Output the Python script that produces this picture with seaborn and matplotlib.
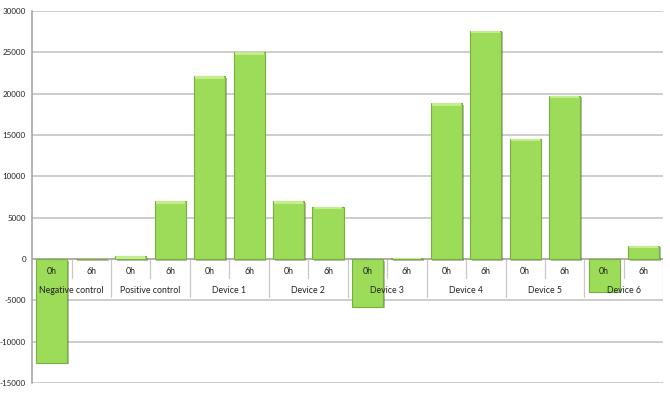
import pandas as pd
import numpy as np
import matplotlib
matplotlib.use('Agg')
import matplotlib.pyplot as plt
import matplotlib.patheffects as pe
from matplotlib.patches import Rectangle
import seaborn as sns

groups = ['Negative control', 'Positive control', 'Device 1', 'Device 2',
          'Device 3', 'Device 4', 'Device 5', 'Device 6']
times = ['0h', '6h']
values_0h = [-12550, 350, 22150, 7000, -5750, 18870, 14550, -3950]
values_6h = [50, 7000, 25000, 6330, 160, 27640, 19760, 1610]

rows = []
for g, v0, v6 in zip(groups, values_0h, values_6h):
    rows.append({'group': g, 'time': '0h', 'value': v0})
    rows.append({'group': g, 'time': '6h', 'value': v6})
df = pd.DataFrame(rows)
df['key'] = df['group'] + ' ' + df['time']

sns.set_style('white')
plt.rcParams['font.family'] = ['Lato', 'DejaVu Sans']

fig = plt.figure(figsize=(6.7, 3.93), dpi=100)
ax = fig.add_axes([0.048, 0.0254, 0.942, 0.9466])

bar_color = '#9cdc58'
edge_color = '#78b040'
sns.barplot(data=df, x='key', y='value', color=bar_color, saturation=1,
            width=0.79, edgecolor=edge_color, linewidth=0.8, ax=ax, zorder=3)

# excel-ish bevel: shadow + light top strip
for p in ax.patches:
    p.set_path_effects([pe.SimplePatchShadow(offset=(1.2, -1.2), alpha=0.35),
                        pe.Normal()])
    h = p.get_height()
    if h > 0:
        strip = min(330, h)
        ax.add_patch(Rectangle((p.get_x() + 0.03, p.get_y() + h - strip),
                               p.get_width() - 0.06, strip,
                               facecolor='#c4ee8e', edgecolor='none', zorder=3.5))

ax.set_ylim(-15000, 30000)
ax.set_xlim(-0.5, len(df) - 0.5)
ax.set_yticks(np.arange(-15000, 30001, 5000))
ax.set_yticklabels([str(t) for t in range(-15000, 30001, 5000)], fontsize=5.8, color='#222222')
ax.yaxis.grid(True, color='#c0c0c0', linewidth=1.1, zorder=0)
ax.set_axisbelow(True)
ax.tick_params(axis='y', length=2.5, color='#a0a0a0', pad=2)
ax.set_xticks([])
ax.set_xlabel('')
ax.set_ylabel('')
for s in ['top', 'right', 'bottom']:
    ax.spines[s].set_visible(False)
ax.spines['left'].set_color('#a0a0a0')
ax.spines['left'].set_linewidth(1.1)

# category axis drawn at zero
ax.axhline(0, color='#a8a8a8', linewidth=1.1, zorder=2)
short = 19 * 5000 / 41.3
long = 38 * 5000 / 41.3
for i in range(len(df)):
    ax.annotate(df['time'][i], (i, 0), xytext=(0, -9), textcoords='offset points',
                ha='center', va='center', fontsize=6.3, color='#222222', zorder=5)
for i in range(len(df) + 1):
    bottom = -long if i % 2 == 0 else -short
    if i > 0:
        ax.plot([i - 0.5, i - 0.5], [0, bottom], color='#c8c8c8', linewidth=0.9, zorder=1)
for j, g in enumerate(groups):
    ax.annotate(g, (2 * j + 0.5, 0), xytext=(0, -23), textcoords='offset points',
                ha='center', va='center', fontsize=6.3, color='#222222', zorder=5)

plt.savefig('out.png', dpi=100)
